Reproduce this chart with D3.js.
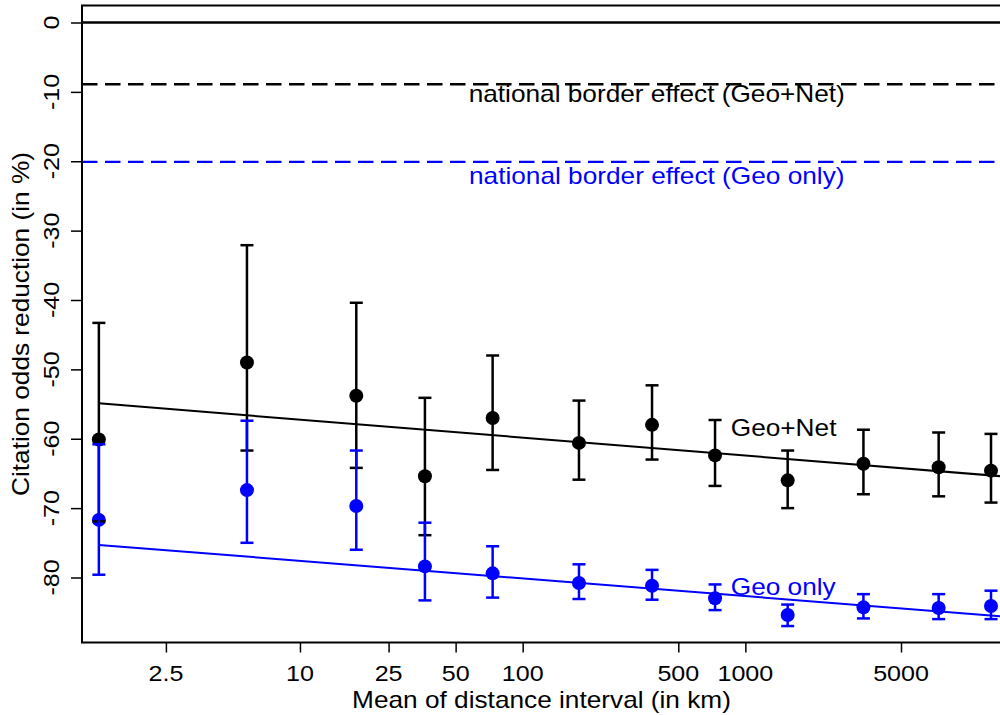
<!DOCTYPE html>
<html>
<head>
<meta charset="utf-8">
<script src="https://cdn.jsdelivr.net/npm/d3@7/dist/d3.min.js"></script>
<style>
  html, body { margin: 0; padding: 0; background: #fff; }
  svg { display: block; }
  text { font-family: "Liberation Sans", Arial, Helvetica, sans-serif; }
</style>
</head>
<body>
<svg id="chart" width="1000" height="715"></svg>
<script>
// ---- data ----
const distance = [1.25, 5.78, 17.9, 36.4, 73.3, 179, 381, 731, 1549, 3390, 7380, 12680];

const geoNet   = [-60.1, -49.0, -53.8, -65.4, -57.0, -60.6, -58.0, -62.4, -66.0, -63.6, -64.1, -64.6];
const geoNetHi = [-43.3, -32.1, -40.4, -54.1, -48.0, -54.5, -52.3, -57.3, -61.7, -58.7, -59.1, -59.3];
const geoNetLo = [-71.9, -61.7, -64.2, -73.9, -64.5, -65.9, -63.0, -66.8, -70.0, -68.0, -68.3, -69.2];

const geoOnly   = [-71.7, -67.4, -69.7, -78.4, -79.4, -80.8, -81.2, -83.0, -85.4, -84.3, -84.4, -84.1];
const geoOnlyHi = [-60.8, -57.4, -61.7, -72.1, -75.5, -78.1, -78.9, -81.0, -83.9, -82.4, -82.4, -81.9];
const geoOnlyLo = [-79.6, -75.0, -76.0, -83.3, -82.9, -83.1, -83.2, -84.7, -87.0, -85.9, -86.0, -86.0];

// fitted lines (linear in log distance): [start distance, value] -> [end distance, value]
const fitNet  = [[1.25, -54.9], [14060, -65.4]];
const fitGeo  = [[1.25, -75.3], [14060, -85.6]];

const borderNet = -8.9;
const borderGeo = -20.1;

const xTicks = [2.5, 10, 25, 50, 100, 500, 1000, 5000];
const xTickLabels = ["2.5", "10", "25", "50", "100", "500", "1000", "5000"];
const yTicks = [0, -10, -20, -30, -40, -50, -60, -70, -80];

// ---- layout ----
const L = 82, R = 1001, T = 5.5, B = 642.5;
const BLUE = "#0000ff";
const SX = 1.14; // horizontal glyph stretch of the reference

const svg = d3.select("#chart");
const x = d3.scaleLog().domain([1.05, 14060]).range([L, R]);
const y = d3.scaleLinear().domain([-89.37, 2.45]).range([B, T]);

function txt(g, str, px, py, opt) {
  opt = opt || {};
  return g.append("text")
    .attr("transform", `translate(${px},${py}) rotate(${opt.rot || 0}) scale(${opt.sx || SX},1)`)
    .attr("text-anchor", opt.anchor || "middle")
    .attr("font-size", opt.size || 23)
    .attr("fill", opt.fill || "#000")
    .text(str);
}

// reference lines
svg.append("line").attr("x1", L).attr("x2", R).attr("y1", y(0)).attr("y2", y(0))
  .attr("stroke", "#000").attr("stroke-width", 2.6);
svg.append("line").attr("x1", L).attr("x2", R).attr("y1", y(borderNet)).attr("y2", y(borderNet))
  .attr("stroke", "#000").attr("stroke-width", 2.3).attr("stroke-dasharray", "15.5,7.5");
svg.append("line").attr("x1", L).attr("x2", R).attr("y1", y(borderGeo)).attr("y2", y(borderGeo))
  .attr("stroke", BLUE).attr("stroke-width", 2.3).attr("stroke-dasharray", "15.5,7.5");

// fit lines
const line = d3.line().x(d => x(d[0])).y(d => y(d[1]));
svg.append("path").attr("d", line(fitNet)).attr("fill", "none").attr("stroke", "#000").attr("stroke-width", 2);
svg.append("path").attr("d", line(fitGeo)).attr("fill", "none").attr("stroke", BLUE).attr("stroke-width", 2);

// points
function points(vals, color) {
  svg.append("g").selectAll("circle").data(vals).join("circle")
    .attr("cx", (d, i) => x(distance[i])).attr("cy", d => y(d)).attr("r", 7).attr("fill", color);
}
function bars(lo, hi, color) {
  const g = svg.append("g").attr("stroke", color).attr("stroke-width", 2.5).attr("fill", "none");
  distance.forEach((dx, i) => {
    const cx = x(dx);
    g.append("line").attr("x1", cx).attr("x2", cx).attr("y1", y(hi[i])).attr("y2", y(lo[i]));
    g.append("line").attr("x1", cx - 6.5).attr("x2", cx + 6.5).attr("y1", y(hi[i])).attr("y2", y(hi[i]));
    g.append("line").attr("x1", cx - 6.5).attr("x2", cx + 6.5).attr("y1", y(lo[i])).attr("y2", y(lo[i]));
  });
}
points(geoNet, "#000");
points(geoOnly, BLUE);
bars(geoNetLo, geoNetHi, "#000");
bars(geoOnlyLo, geoOnlyHi, BLUE);

// frame
svg.append("rect").attr("x", L).attr("y", T).attr("width", R - L).attr("height", B - T)
  .attr("fill", "none").attr("stroke", "#000").attr("stroke-width", 2);

// axes
const xAxis = d3.axisBottom(x).tickValues(xTicks).tickFormat((d, i) => xTickLabels[i]).tickSize(10).tickSizeOuter(0);
const gx = svg.append("g").attr("transform", `translate(0,${B})`).call(xAxis);
gx.select(".domain").remove();
gx.selectAll(".tick line").attr("stroke-width", 1.5);
gx.selectAll(".tick text").remove();
xTicks.forEach((t, i) => txt(svg, xTickLabels[i], x(t), 680.5, { size: 22 }));

const yAxis = d3.axisLeft(y).tickValues(yTicks).tickFormat(d3.format("d")).tickSize(11).tickSizeOuter(0);
const gy = svg.append("g").attr("transform", `translate(${L},0)`).call(yAxis);
gy.select(".domain").remove();
gy.selectAll(".tick line").attr("stroke-width", 1.5);
gy.selectAll(".tick text").remove();
yTicks.forEach(t => txt(svg, String(t), 58.5, y(t), { size: 22, rot: -90 }));

// axis titles
txt(svg, "Mean of distance interval (in km)", (L + R) / 2, 708);
txt(svg, "Citation odds reduction (in %)", 28.5, (T + B) / 2, { rot: -90 });

// annotations
txt(svg, "national border effect (Geo+Net)", x(400), y(-11.5));
txt(svg, "national border effect (Geo only)", x(400), y(-23.3), { fill: BLUE });
txt(svg, "Geo+Net", x(860), y(-59.6), { anchor: "start" });
txt(svg, "Geo only", x(860), y(-82.5), { anchor: "start", fill: BLUE });
</script>
</body>
</html>
